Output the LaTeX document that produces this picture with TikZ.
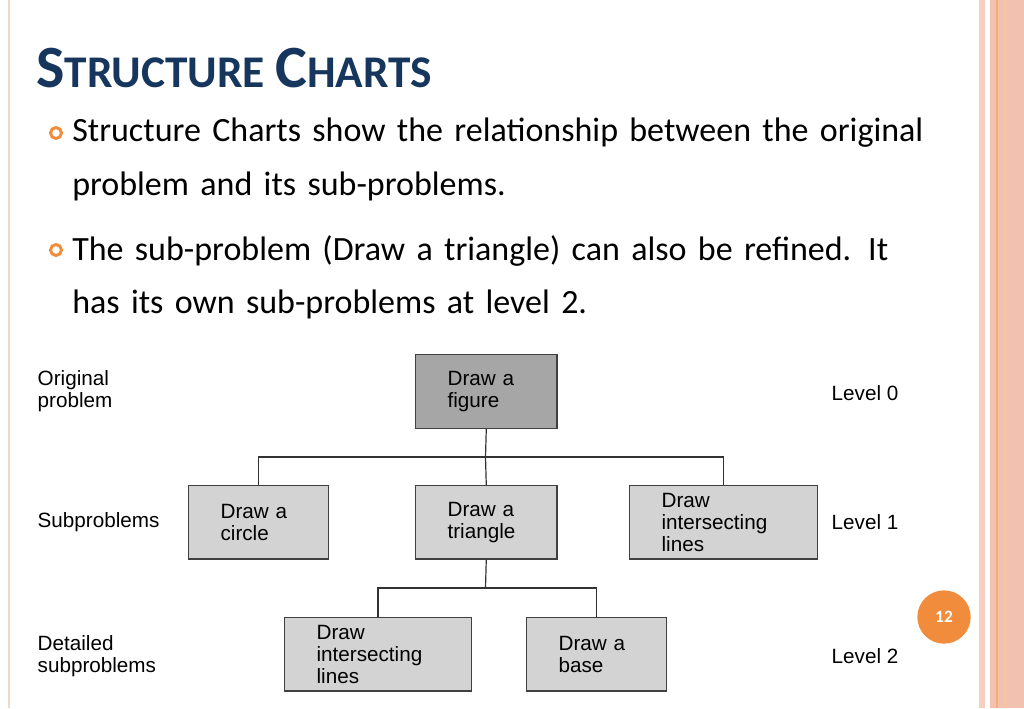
\documentclass[tikz,border=0pt]{standalone}
\usepackage{fontspec}
\setmainfont{Carlito}
\newfontfamily\diagfont{Liberation Sans}
\usetikzlibrary{positioning}
\definecolor{titlecolor}{RGB}{23, 54, 93}
\definecolor{stripecolor}{RGB}{242, 186, 166}
\definecolor{bulletcolor}{RGB}{240, 140, 60}
\definecolor{boxdark}{RGB}{166, 166, 166}
\definecolor{boxlight}{RGB}{211, 211, 211}

\begin{document}
\begin{tikzpicture}[x=0.75pt, y=-0.75pt,
    task/.style={rectangle, draw=black!75, line width=0.9pt, align=left, inner xsep=24pt, inner ysep=0pt,
        font=\diagfont\fontsize{15.5}{16.5}\selectfont, anchor=north west},
    side/.style={anchor=west, align=left, font=\diagfont\fontsize{15.5}{16.5}\selectfont},
    link/.style={line width=0.9pt, black!80},
    bullet/.style={anchor=north west, align=left, text width=700pt, inner sep=0pt,
        font=\fontsize{25.5}{40}\selectfont}
]
    \useasboundingbox (0,0) rectangle (1024,708);
    % Page decoration
    \fill[stripecolor!60] (8,0) rectangle (10,708);
    \fill[stripecolor!70] (979,0) rectangle (985,708);
    \fill[stripecolor!90] (990,0) rectangle (1024,708);
    \draw[bulletcolor!70, line width=0.8pt] (997,0) -- (997,708);
    \draw[bulletcolor!50, line width=0.8pt] (1005,0) -- (1005,708);

    % Title and bullets
    \node[anchor=base west, inner sep=0pt, text=titlecolor, font=\bfseries] (title) at (36,87)
        {\fontsize{45}{48}\selectfont S\fontsize{34}{48}\selectfont TRUCTURE
         \fontsize{45}{48}\selectfont C\fontsize{34}{48}\selectfont HARTS};
    \node[bullet] (b1) at (72,118) {Structure Charts show the relationship between the original\\problem and its sub-problems.};
    \node[bullet] (b2) at (72,235) {The sub-problem (Draw a triangle) can also be refined. It\\has its own sub-problems at level 2.};
    \draw[bulletcolor, line width=2.2pt] (56,133) circle (5.5);
    \draw[bulletcolor, line width=2.2pt] (56,250) circle (5.5);

    % Tasks
    \node[task, fill=boxdark, text width=58pt, minimum height=55.5pt] (figure) at (415,354) {Draw a\\figure};
    \node[task, fill=boxlight, text width=57pt, minimum height=55pt] (circle) at (188,485) {Draw a\\circle};
    \node[task, fill=boxlight, text width=58pt, minimum height=55pt] (triangle) at (415,485) {Draw a\\triangle};
    \node[task, fill=boxlight, text width=93pt, minimum height=55pt] (lines1) at (629,485) {Draw\\intersecting\\lines};
    \node[task, fill=boxlight, text width=92pt, minimum height=55pt] (lines2) at (284,617) {Draw\\intersecting\\lines};
    \node[task, fill=boxlight, text width=57pt, minimum height=55pt] (base) at (526,617) {Draw a\\base};

    % Connectors
    \coordinate (j0) at (485.5,457);
    \coordinate (j1) at (485.5,588);
    \draw[link] (figure.south) -- (j0);
    \draw[link] (circle.north) |- (j0) -| (lines1.north);
    \draw[link] (j0) -- (triangle.north);
    \draw[link] (triangle.south) -- (j1);
    \draw[link] (lines2.north) |- (j1) -| (base.north);

    % Side labels
    \node[side] (orig) at (33,391) {Original\\problem};
    \node[side] (sub) at (33,522) {Subproblems};
    \node[side] (detail) at (33,656) {Detailed\\subproblems};
    \node[side] (lev0) at (827,393) {Level 0};
    \node[side] (lev1) at (827,522) {Level 1};
    \node[side] (lev2) at (827,656) {Level 2};

    % Page number
    \node[circle, fill=bulletcolor, minimum size=40pt, inner sep=0pt, text=white,
        font=\bfseries\fontsize{13}{13}\selectfont] (page) at (944,617) {12};
\end{tikzpicture}
\end{document}
